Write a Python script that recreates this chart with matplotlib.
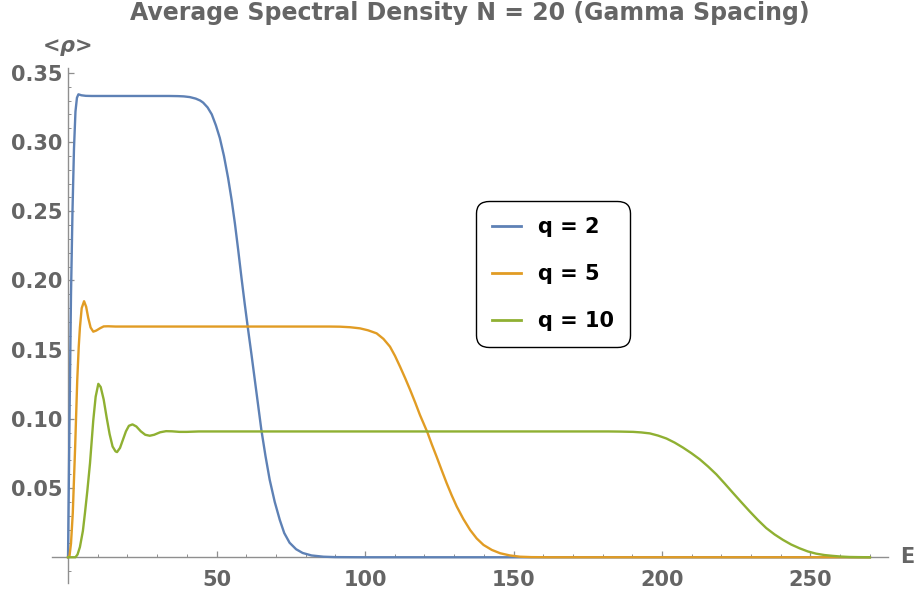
import matplotlib
matplotlib.use("Agg")
import matplotlib.pyplot as plt

# ---------------- data ----------------
E_q2 = [0, 0.5, 1.0, 1.5, 2.0, 2.5, 3.0, 3.5, 4.5, 6, 8, 20, 34, 37, 39, 41, 43, 44.5,
        45.5, 47, 48.4, 49.8, 51.1, 52.5, 53.9, 55.1, 56.2, 57.3, 58.4, 59.5, 60.6, 61.8,
        62.9, 64.0, 65.1, 66.5, 67.9, 69.6, 71.3, 72.8, 74.6, 76.8, 79, 82, 86, 90, 100, 270]
rho_q2 = [0, 0.10, 0.19, 0.25, 0.295, 0.322, 0.332, 0.3345, 0.3338, 0.3334, 0.3333,
          0.3333, 0.3333, 0.3332, 0.3330, 0.3325, 0.3314, 0.3300, 0.3285, 0.325, 0.320,
          0.312, 0.303, 0.290, 0.274, 0.258, 0.241, 0.222, 0.202, 0.183, 0.165, 0.146,
          0.128, 0.110, 0.092, 0.073, 0.056, 0.040, 0.027, 0.0175, 0.0105, 0.0058, 0.0031,
          0.0013, 0.0004, 0.0001, 0, 0]

E_q5 = [0, 0.5, 1.0, 1.6, 2.4, 3.1, 3.6, 4.0, 4.6, 5.4, 6.1, 6.8, 7.6, 8.5, 9.5, 10.8,
        12, 13.5, 16, 60, 88, 91.6, 95, 98.3, 101, 103.9, 106.2, 108.4, 110.1, 111.8,
        113.5, 115.2, 116.9, 118.5, 121.0, 122.5, 124.1, 125.8, 127.5, 129.2, 130.9, 133.1,
        135.4, 137.6, 139.9, 142.7, 145.5, 148.8, 152.2, 156, 162, 270]
rho_q5 = [0, 0.001, 0.01, 0.032, 0.080, 0.128, 0.152, 0.166, 0.180, 0.185, 0.181, 0.173,
          0.166, 0.163, 0.1638, 0.1655, 0.1668, 0.1669, 0.1667, 0.1667, 0.1667, 0.1666,
          0.1662, 0.1654, 0.1640, 0.1618, 0.1578, 0.1522, 0.1455, 0.1377, 0.1295, 0.1209,
          0.1118, 0.1028, 0.0903, 0.0815, 0.0727, 0.0630, 0.0535, 0.0447, 0.0366, 0.0277,
          0.0197, 0.0136, 0.0089, 0.0053, 0.0029, 0.0013, 0.0004, 0.0001, 0, 0]

E_q10 = [0, 2.5, 3.2, 4.0, 5.0, 5.7, 6.5, 7.4, 8.5, 9.3, 10.2, 11.0, 12.0, 13.0, 14.0,
         15.0, 16.0, 16.5, 17.5, 18.5, 19.5, 20.5, 21.7, 23, 24.5, 26, 27.5, 29, 31, 33,
         35, 37.5, 40, 44, 120, 182, 186, 190.3, 193, 195.9, 198.7, 201.5, 204.3, 207.1,
         209.9, 212.7, 215.5, 218.3, 221.1, 223.9, 226.7, 229.5, 232.3, 235.1, 237.9,
         240.7, 243.5, 246.3, 249.1, 251.9, 254.7, 257.5, 260.3, 263.1, 266, 270]
rho_q10 = [0, 0, 0.002, 0.0074, 0.019, 0.032, 0.048, 0.068, 0.099, 0.116, 0.1253, 0.123,
           0.114, 0.101, 0.089, 0.080, 0.0765, 0.076, 0.079, 0.085, 0.091, 0.095, 0.096,
           0.0945, 0.091, 0.0885, 0.0878, 0.0885, 0.0903, 0.0911, 0.0910, 0.0906, 0.0906,
           0.0909, 0.0909, 0.0909, 0.0908, 0.0906, 0.0902, 0.0895, 0.0879, 0.0858, 0.0828,
           0.0792, 0.0752, 0.0708, 0.0656, 0.0599, 0.0533, 0.0465, 0.0398, 0.0332, 0.0269,
           0.0211, 0.0165, 0.0126, 0.0092, 0.0065, 0.0042, 0.0026, 0.0016, 0.0010, 0.0005,
           0.0002, 0.0001, 0]

series_labels = ["q = 2", "q = 5", "q = 10"]
x_major = [50, 100, 150, 200, 250]
y_major = [0.05, 0.10, 0.15, 0.20, 0.25, 0.30, 0.35]
y_major_labels = ["0.05", "0.10", "0.15", "0.20", "0.25", "0.30", "0.35"]
title = "Average Spectral Density N = 20 (Gamma Spacing)"

# ---------------- styling ----------------
plt.rcParams['font.family'] = ['DejaVu Sans']
plt.rcParams['mathtext.fontset'] = 'custom'
plt.rcParams['mathtext.it'] = 'DejaVu Sans:italic:bold'
plt.rcParams['mathtext.rm'] = 'DejaVu Sans:bold'

colors = ["#5E81B5", "#E19C24", "#8FB032"]
gray_txt = "#656565"
gray_ax = "#8f8f8f"

W, H = 918, 597
fig = plt.figure(figsize=(W / 100, H / 100), dpi=100)

x0, x1 = -5.5, 276
y0, y1 = -0.0186, 0.3533
left_px, right_px = 51.7, 887.7
top_px, bot_px = 68.3, 583.0
ax = fig.add_axes([left_px / W, 1 - bot_px / H, (right_px - left_px) / W, (bot_px - top_px) / H])
ax.set_xlim(x0, x1)
ax.set_ylim(y0, y1)
ax.patch.set_alpha(0)

for Es, rs, c, lab in zip([E_q2, E_q5, E_q10], [rho_q2, rho_q5, rho_q10], colors, series_labels):
    ax.plot(Es, rs, color=c, lw=1.7, label=lab, solid_joinstyle='round', zorder=3)

for s in ['top', 'right']:
    ax.spines[s].set_visible(False)
ax.spines['left'].set_position(('data', 0))
ax.spines['bottom'].set_position(('data', 0))
for s in ['left', 'bottom']:
    ax.spines[s].set_color(gray_ax)
    ax.spines[s].set_linewidth(1.0)
    ax.spines[s].set_zorder(2)

ax.set_xticks(x_major)
ax.set_xticklabels([str(v) for v in x_major])
ax.set_xticks([v for v in range(10, 280, 10) if v % 50 != 0], minor=True)
ax.set_yticks(y_major)
ax.set_yticklabels(y_major_labels)
ax.set_yticks([round(v * 0.01, 2) for v in range(-1, 36) if v % 5 != 0], minor=True)

ax.tick_params(axis='both', which='both', direction='in', color=gray_ax,
               labelcolor=gray_txt, labelsize=15)
ax.tick_params(axis='both', which='major', length=4, width=0.9)
ax.tick_params(axis='both', which='minor', length=2.5, width=0.7)
ax.tick_params(axis='x', which='major', pad=9.5)
ax.tick_params(axis='y', which='major', pad=4.3)
for t in ax.get_xticklabels() + ax.get_yticklabels():
    t.set_fontweight('bold')

# axis labels
fig.text(67 / W, 1 - 47 / H, r"<$\rho$>", ha='center', va='center', fontsize=15,
         fontweight='bold', color=gray_txt)
fig.text(907.5 / W, 1 - 557 / H, "E", ha='center', va='center', fontsize=15,
         fontweight='bold', color=gray_txt)

# title
fig.text(470 / W, 1 - 13 / H, title, ha='center', va='center', fontsize=17,
         fontweight='bold', color=gray_txt)

# legend
leg = ax.legend(loc='upper left', bbox_to_anchor=(476 / W, 1 - 201 / H),
                bbox_transform=fig.transFigure, borderaxespad=0,
                prop={'weight': 'bold', 'size': 15}, frameon=True, fancybox=True,
                borderpad=0.77, labelspacing=1.3, handlelength=1.4, handletextpad=0.8)
frame = leg.get_frame()
frame.set_edgecolor('black')
frame.set_linewidth(1.0)
frame.set_facecolor('white')
frame.set_alpha(1)
frame.set_boxstyle('round', pad=0, rounding_size=0.6)
for line in leg.get_lines():
    line.set_linewidth(2.0)

fig.savefig("out.png", dpi=100)
